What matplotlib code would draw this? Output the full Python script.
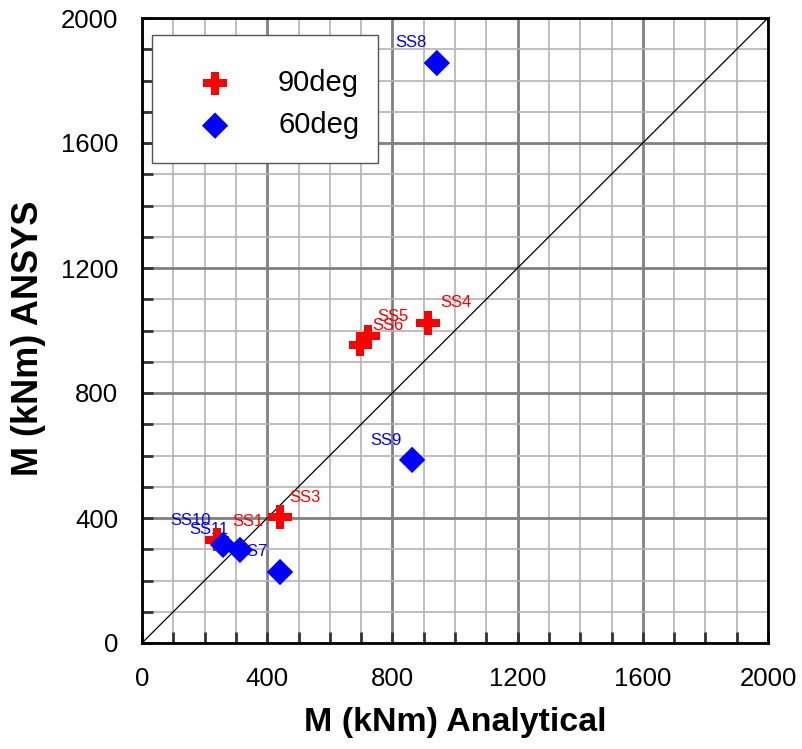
import matplotlib
matplotlib.use("Agg")
import matplotlib.pyplot as plt
from matplotlib.patches import Rectangle
import numpy as np

plt.rcParams['font.family'] = ['Liberation Sans', 'DejaVu Sans']

# 90deg series
x90 = [240, 441, 914, 722, 697]
y90 = [330, 403, 1024, 982, 954]
lab90 = ["SS1", "SS3", "SS4", "SS5", "SS6"]
off90 = [(11, 13), (7, 14), (9, 15), (7, 14), (9, 14)]

# 60deg series
x60 = [942, 863, 313, 259, 441]
y60 = [1856, 586, 298, 314, 227]
lab60 = ["SS8", "SS9", "SS7", "SS11", "SS10"]
off60 = [(-30, 15), (-30, 14), (-3, -1.5), (-24, 11), (-79, 37)]

ticks = [0, 400, 800, 1200, 1600, 2000]

W, H = 803, 749
AX_L, AX_R, AX_T, AX_B = 142, 768, 18, 643
def ax_x(px):
    return (px - AX_L) / (AX_R - AX_L)
def ax_y(py):
    return (AX_B - py) / (AX_B - AX_T)

fig = plt.figure(figsize=(W/100, H/100), dpi=100)
ax = fig.add_axes([AX_L/W, 1-AX_B/H, (AX_R-AX_L)/W, (AX_B-AX_T)/H])
ax.set_xlim(0, 2000)
ax.set_ylim(0, 2000)

minor = np.arange(0, 2001, 100)
ax.set_xticks(ticks)
ax.set_yticks(ticks)
ax.set_xticks(minor, minor=True)
ax.set_yticks(minor, minor=True)
ax.grid(which='minor', color='#b4b4b4', lw=1.2, zorder=0)
ax.grid(which='major', color='#808080', lw=2.0, zorder=0)
ax.set_axisbelow(True)
ax.tick_params(which='both', direction='in', length=8, width=2, color='#333333',
               labelsize=18.5)
ax.tick_params(axis='x', pad=17)
ax.tick_params(axis='y', pad=17)
ax.tick_params(top=False, right=False)
for s in ax.spines.values():
    s.set_linewidth(2)
    s.set_color('black')

ax.plot([0, 2000], [0, 2000], color='black', lw=0.9, zorder=2)

ax.scatter(x90, y90, marker='P', s=280, color='red', edgecolors='none', zorder=3, label='90deg')
ax.scatter(x60, y60, marker='D', s=180, color='blue', edgecolors='none', zorder=4, label='60deg')

for x, y, t, o in zip(x90, y90, lab90, off90):
    ax.annotate(t, (x, y), xytext=o, textcoords='offset points', color='red',
                fontsize=12, ha='left', va='center', zorder=2.5)
for x, y, t, o in zip(x60, y60, lab60, off60):
    ax.annotate(t, (x, y), xytext=o, textcoords='offset points', color='blue',
                fontsize=12, ha='left', va='center', zorder=2.5)

# legend frame
ax.add_patch(Rectangle((ax_x(152), ax_y(163)), ax_x(378)-ax_x(152), ax_y(35)-ax_y(163),
                       transform=ax.transAxes, facecolor='white', edgecolor='#555555',
                       lw=1.0, zorder=5))
leg = ax.legend(loc='upper left', bbox_to_anchor=(ax_x(200.5), ax_y(69)), fontsize=21,
                frameon=False, borderpad=0, labelspacing=0.49, handletextpad=1.66,
                borderaxespad=0, handlelength=1.0)
leg.set_zorder(6)

ax.set_xlabel('M (kNm) Analytical', fontsize=24.5, fontweight='bold')
ax.set_ylabel('M (kNm) ANSYS', fontsize=26, fontweight='bold')
ax.xaxis.label.set_va('center')
ax.yaxis.label.set_va('center')
ax.xaxis.set_label_coords(0.5, ax_y(722))
ax.yaxis.set_label_coords(ax_x(28), ax_y(338.5))

fig.savefig('out.png', dpi=100)
